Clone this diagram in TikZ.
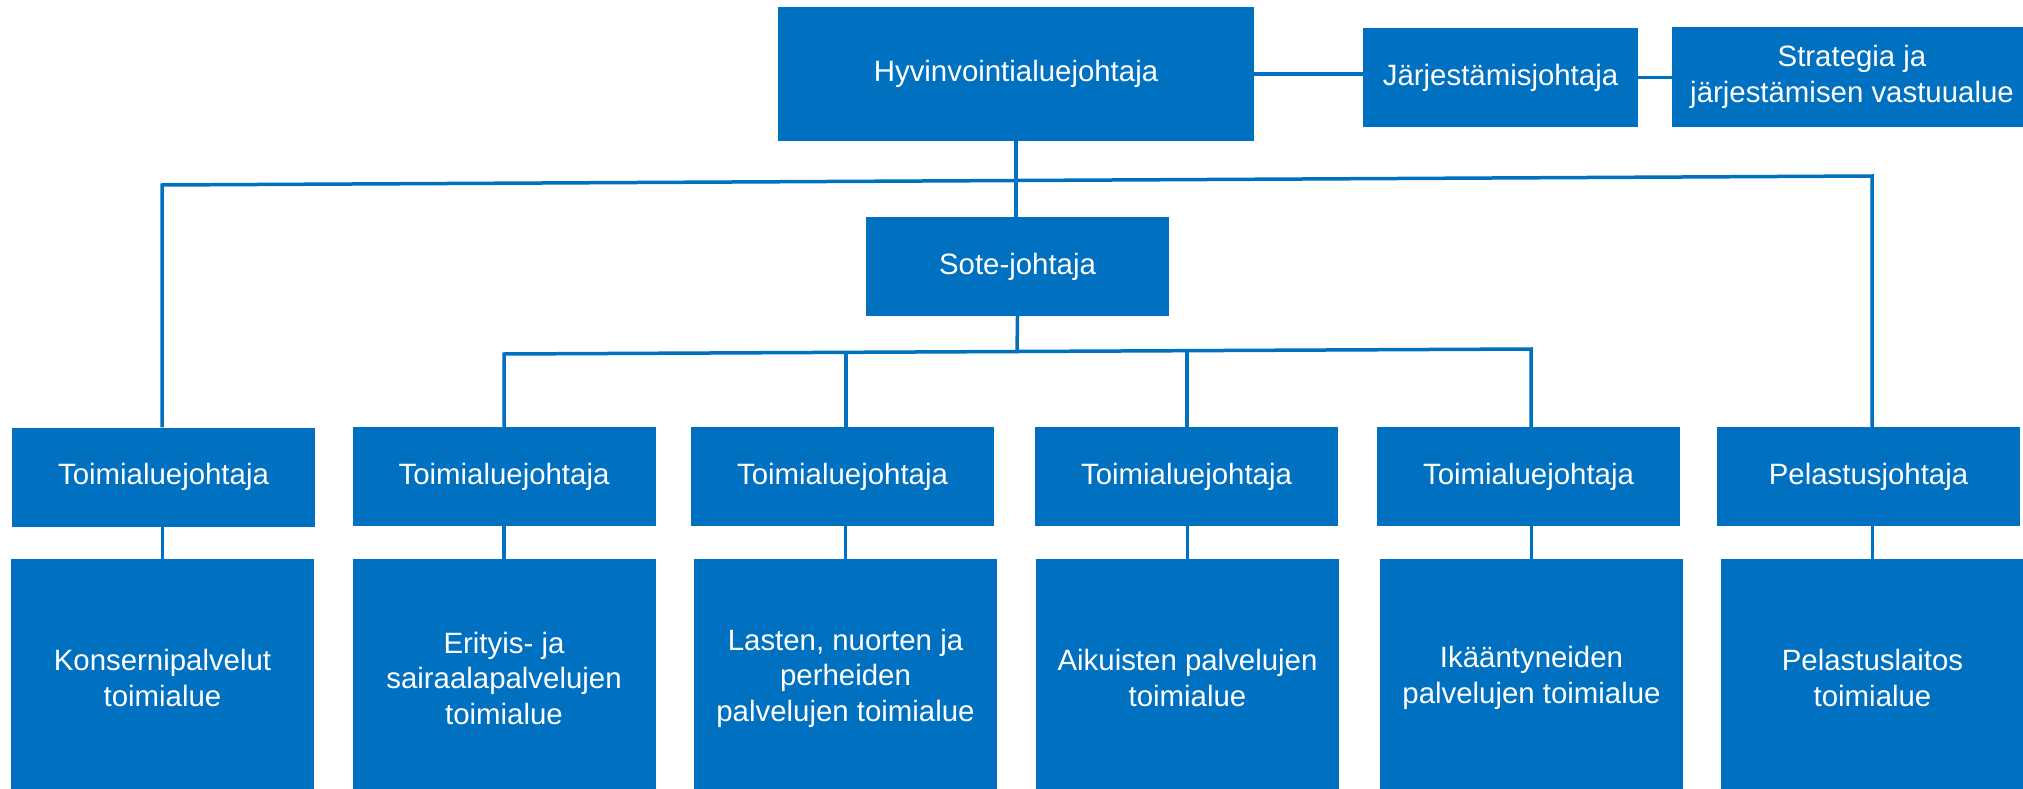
\documentclass[tikz,border=0pt]{standalone}
\usepackage{fontspec}
\setmainfont{Liberation Sans}
\definecolor{blu}{RGB}{0,112,192}
\tikzset{
  box/.style={fill=blu, text=white, inner sep=0pt, align=center, font=\fontsize{29.4}{35.5}\selectfont, minimum width=303pt, minimum height=99pt},
  lowbox/.style={box, minimum height=238pt},
  conn/.style={draw=blu, line width=3.5pt}
}
\begin{document}
\begin{tikzpicture}[x=1pt,y=-1pt]
\useasboundingbox (0,0) rectangle (2023,789);
% top
\node[box, minimum width=476pt, minimum height=134pt] (hyv) at (1016,74) {Hyvinvointialuejohtaja};
\node[box, minimum width=275pt] (jar) at (1500.5,77.5) {Järjestämisjohtaja};
\node[box, minimum width=360pt, minimum height=100pt] (strat) at (1852,77) {Strategia ja\\järjestämisen vastuualue};
\node[box] (sote) at (1017.5,266.5) {Sote-johtaja};
% upper row
\node[box] (t1) at (163.5,477) {Toimialuejohtaja};
\node[box] (t2) at (504,476.5) {Toimialuejohtaja};
\node[box] (t3) at (842.5,476.5) {Toimialuejohtaja};
\node[box] (t4) at (1186.5,476.5) {Toimialuejohtaja};
\node[box] (t5) at (1528.5,476.5) {Toimialuejohtaja};
\node[box] (t6) at (1868.5,476.5) {Pelastusjohtaja};
% lower row
\node[lowbox] (l1) at (162.5,678) {Konsernipalvelut\\toimialue};
\node[lowbox] (l2) at (504,678) {Erityis- ja\\sairaalapalvelujen\\toimialue};
\node[lowbox] (l3) at (845.5,678) {Lasten, nuorten ja\\perheiden\\palvelujen toimialue};
\node[lowbox] (l4) at (1187.5,678) {Aikuisten palvelujen\\toimialue};
\node[lowbox] (l5) at (1531.5,678) {Ikääntyneiden\\palvelujen toimialue};
\node[lowbox] (l6) at (1872.5,678) {Pelastuslaitos\\toimialue};
% coordinates
\coordinate (topL) at (162,185);
\coordinate (topR) at (1872,176);
\coordinate (soteJ) at (1017,353);
\coordinate (sL) at (504,354);
\coordinate (sR) at (1531,349);
\coordinate (s3) at (846,353);
\coordinate (s4) at (1187,352);
% connectors
\draw[conn] (hyv.east) -- (hyv.east -| jar.west);
\draw[conn] (jar.east) -- (jar.east -| strat.west);
\draw[conn] (hyv.south) -- (hyv.south |- sote.north);
\draw[conn] (topL |- t1.north) -- (topL) -- (topR) -- (topR |- t6.north);
\draw[conn] (sote.south) -- (soteJ);
\draw[conn] (sL |- t2.north) -- (sL) -- (sR) -- (sR |- t5.north);
\draw[conn] (s3) -- (s3 |- t3.north);
\draw[conn] (s4) -- (s4 |- t4.north);
\draw[conn] (l1.north |- t1.south) -- (l1.north);
\draw[conn] (l2.north |- t2.south) -- (l2.north);
\draw[conn] (l3.north |- t3.south) -- (l3.north);
\draw[conn] (l4.north |- t4.south) -- (l4.north);
\draw[conn] (l5.north |- t5.south) -- (l5.north);
\draw[conn] (l6.north |- t6.south) -- (l6.north);
\end{tikzpicture}
\end{document}
